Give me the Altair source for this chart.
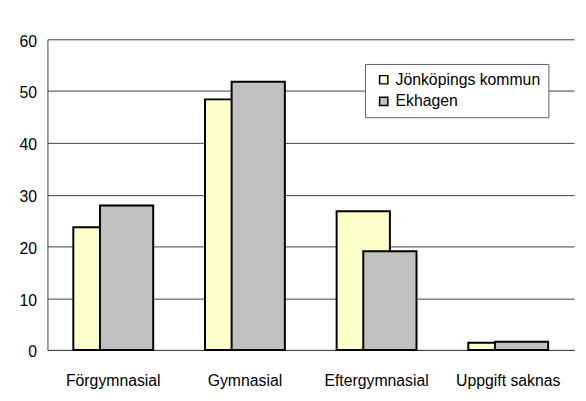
import altair as alt
import pandas as pd

categories = ["Förgymnasial", "Gymnasial", "Eftergymnasial", "Uppgift saknas"]
series = ["Jönköpings kommun", "Ekhagen"]
jonkoping = [23.7, 48.4, 26.8, 1.4]
ekhagen = [27.9, 51.8, 19.05, 1.6]
colors = ["#ffffcc", "#c0c0c0"]

rows = []
for c, v in zip(categories, jonkoping):
    rows.append({"kategori": c, "serie": series[0], "varde": v})
for c, v in zip(categories, ekhagen):
    rows.append({"kategori": c, "serie": series[1], "varde": v})
df = pd.DataFrame(rows)

FONT = "Liberation Sans"

x_enc = alt.X("kategori:N", sort=categories, title=None,
              scale=alt.Scale(range=[0, 534], paddingInner=0, paddingOuter=0),
              axis=alt.Axis(labelAngle=0, ticks=False, tickSize=0, labelPadding=36,
                            labelBaseline="alphabetic", labelFontSize=16, labelFont=FONT,
                            labelColor="#000000", domainColor="#404040", domainWidth=1,
                            grid=False))
y_enc = alt.Y("varde:Q", title=None,
              scale=alt.Scale(domain=[0, 60], nice=False),
              axis=alt.Axis(values=[0, 10, 20, 30, 40, 50, 60], ticks=False, tickSize=0,
                            labelPadding=11, labelFontSize=16, labelFont=FONT,
                            labelColor="#000000", labelOffset=2,
                            domainColor="#404040", domainWidth=1,
                            grid=True, gridColor="#404040", gridWidth=1))
color_enc = alt.Color("serie:N", sort=series,
                      scale=alt.Scale(domain=series, range=colors),
                      legend=alt.Legend(title=None, orient="none", legendX=322, legendY=25,
                                        symbolType="square", symbolSize=70,
                                        symbolStrokeColor="#000000", symbolStrokeWidth=1.5,
                                        labelFontSize=16, labelFont=FONT, labelColor="#000000",
                                        rowPadding=6, padding=8, labelOffset=4,
                                        fillColor="#ffffff", strokeColor="#606060",
                                        symbolOffset=3))

base = alt.Chart(df).encode(x=x_enc, y=y_enc, color=color_enc)

yellow = base.transform_filter(alt.datum.serie == series[0]).mark_bar(
    size=54, xOffset=-13.5, stroke="#000000", strokeWidth=2)
gray = base.transform_filter(alt.datum.serie == series[1]).mark_bar(
    size=54, xOffset=13.5, stroke="#000000", strokeWidth=2)

chart = alt.layer(yellow, gray).properties(
    width=538, height=315,
    autosize=alt.AutoSizeParams(type="none"),
    padding={"left": 40, "top": 29, "right": 0, "bottom": 49},
    background="#ffffff",
).configure_view(strokeWidth=0)

chart.save("out.html", embed_options={"renderer": "svg", "actions": False})
